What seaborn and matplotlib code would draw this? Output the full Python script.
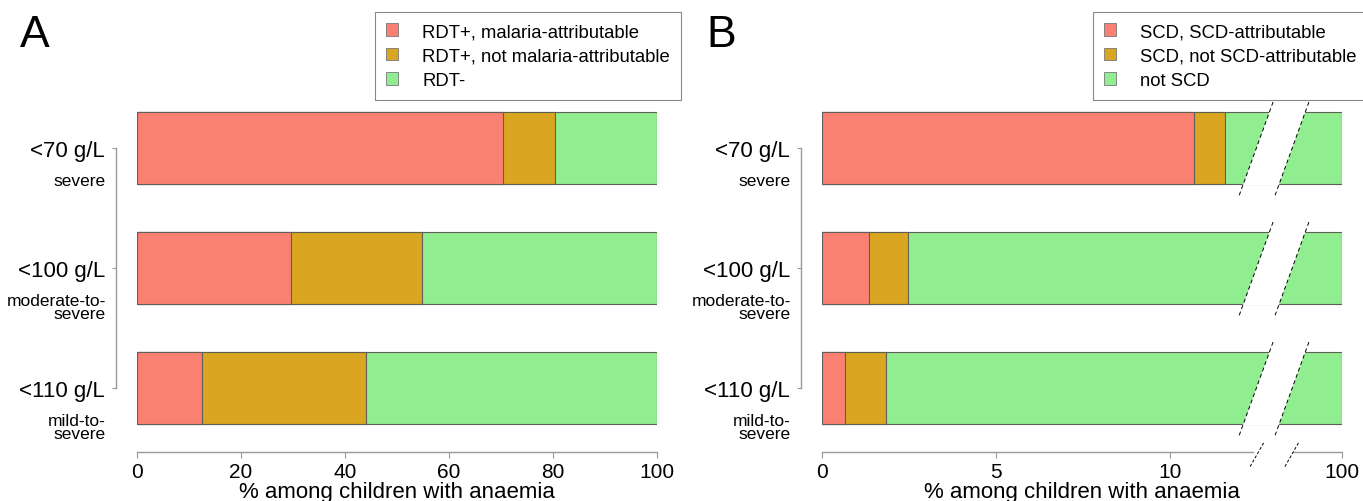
import numpy as np
import matplotlib
matplotlib.use("Agg")
import matplotlib.pyplot as plt
import seaborn as sns
from matplotlib.patches import Patch, Polygon

sns.set_style("white")
plt.rcParams['font.family'] = ['Liberation Sans', 'DejaVu Sans']
plt.rcParams.update({"text.color": "black", "axes.labelcolor": "black",
                     "xtick.color": "black", "ytick.color": "black"})

# ---- data ----
levels = ["<70 g/L", "<100 g/L", "<110 g/L"]
sublevels = ["severe", "moderate-to-\nsevere", "mild-to-\nsevere"]

# panel A: share of anaemic children (%)
rdt_attr = [70.4, 29.6, 12.5]
rdt_notattr = [10.0, 25.2, 31.5]
rdt_neg = [19.6, 45.2, 56.0]
labels_a = ["RDT+, malaria-attributable", "RDT+, not malaria-attributable", "RDT-"]

# panel B
scd_attr = [10.7, 1.35, 0.66]
scd_notattr = [0.88, 1.12, 1.18]
scd_neg = [88.42, 97.53, 98.16]
labels_b = ["SCD, SCD-attributable", "SCD, not SCD-attributable", "not SCD"]

ticks_a = [0, 20, 40, 60, 80, 100]
ticks_b = [0, 5, 10, 100]

colors = ["salmon", "goldenrod", "lightgreen"]
W, H = 1363, 502
GREY = "#9a9a9a"


def box(l, t, r, b):
    return [l / W, 1 - b / H, (r - l) / W, (b - t) / H]


def draw_panel(ax, parts, xticks):
    # stacked bars: draw cumulative totals, widest first
    cum = np.cumsum(np.array(parts), axis=0)
    for k in range(len(parts) - 1, -1, -1):
        sns.barplot(x=cum[k], y=levels, orient="h", color=colors[k], saturation=1,
                    width=0.6, edgecolor="#5f5f55", linewidth=0.8, errorbar=None, ax=ax)
    ax.set_ylim(2.533, -0.5)
    ax.set_xlim(0, 100)
    ax.set_yticks(range(len(levels)))
    ax.set_yticklabels(levels)
    ax.set_xticks(xticks)
    ax.set_xticklabels([str(t) for t in xticks])
    ax.set_ylabel("")
    ax.set_xlabel("% among children with anaemia", fontsize=16, labelpad=0)
    sns.despine(ax=ax, offset={"left": 15, "bottom": 0})
    ax.spines["left"].set_bounds(0, len(levels) - 1)
    ax.spines["bottom"].set_bounds(0, 100)
    for s in ("left", "bottom"):
        ax.spines[s].set_color(GREY)
        ax.spines[s].set_linewidth(1.0)
    ax.tick_params(axis="y", left=True, length=3, width=0.8, color=GREY, pad=5,
                   labelsize=16, labelcolor="black")
    ax.tick_params(axis="x", bottom=True, length=4, width=0.8, color=GREY, pad=3,
                   labelsize=15, labelcolor="black")
    for i, s in enumerate(sublevels):
        ax.text(-0.0596, i + 0.21, s, transform=ax.get_yaxis_transform(),
                ha="right", va="top", fontsize=12.5, linespacing=0.85)


def add_legend(handles_labels, x, y):
    handles = [Patch(facecolor=c, edgecolor="#777777", linewidth=0.6, label=l)
               for c, l in zip(colors, handles_labels)]
    leg = fig.legend(handles=handles, loc="upper left", bbox_to_anchor=(x / W, 1 - y / H),
                     bbox_transform=fig.transFigure, fontsize=13.3, frameon=True, fancybox=False,
                     edgecolor="#888888", framealpha=1, borderaxespad=0, borderpad=0.6,
                     handlelength=0.65, handleheight=0.65, handletextpad=1.3, labelspacing=0.4)
    leg.get_frame().set_linewidth(0.8)


fig = plt.figure(figsize=(W / 100, H / 100), dpi=100)

# ---- panel A ----
axA = fig.add_axes(box(137, 89, 657, 453))
draw_panel(axA, [rdt_attr, rdt_notattr, rdt_neg], ticks_a)

# ---- panel B (broken x axis) ----
BRK = 14.0
END = 14.94


def fwd(x):
    x = np.asarray(x, dtype=float)
    return np.where(x <= BRK, x, BRK + (x - BRK) * (END - BRK) / (100 - BRK))


def inv(x):
    x = np.asarray(x, dtype=float)
    return np.where(x <= BRK, x, BRK + (x - BRK) * (100 - BRK) / (END - BRK))


axB = fig.add_axes(box(822, 89, 1342, 453))
draw_panel(axB, [scd_attr, scd_notattr, scd_neg], ticks_b)
axB.set_xscale("function", functions=(fwd, inv))
axB.set_xlim(0, 100)
axB.set_xticks(ticks_b)
axB.set_xticklabels([str(t) for t in ticks_b])
axB.xaxis.set_minor_locator(matplotlib.ticker.NullLocator())
axB.spines["bottom"].set_bounds(0, 12.38)

# gap in the bars
gap_l, gap_r, slope = 12.48, 13.51, 1.25
for c in range(len(levels)):
    h = 0.31
    axB.add_patch(Polygon([(gap_l + slope * h, c - h), (gap_r + slope * h, c - h),
                           (gap_r - slope * h, c + h), (gap_l - slope * h, c + h)],
                          closed=True, facecolor="white", edgecolor="none", zorder=5))
    for m in (gap_l, gap_r):
        axB.plot([m + slope * 0.383, m - slope * 0.4], [c - 0.383, c + 0.4], color="black",
                 lw=0.7, ls=(0, (4, 3)), zorder=6, clip_on=False)

# gap in the axis line
xt = axB.get_xaxis_transform()
axB.plot([13.53, 100], [0, 0], color=GREY, lw=1.0, transform=xt, clip_on=False)
for m in (12.5, 13.5):
    axB.plot([m - 0.2, m + 0.2], [-0.04, 0.027], color="black", lw=0.7, ls=(0, (3, 2)),
             transform=xt, clip_on=False)

add_legend(labels_a, 375, 13)
add_legend(labels_b, 1093, 13)

fig.text(20 / W, 1 - 47 / H, "A", fontsize=32, va="baseline")
fig.text(706 / W, 1 - 47 / H, "B", fontsize=32, va="baseline")

fig.savefig("out.png", dpi=100)
